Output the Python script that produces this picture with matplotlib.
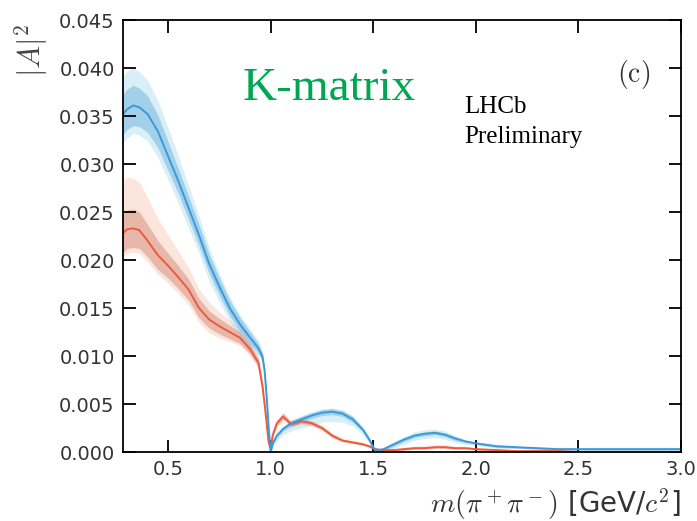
import matplotlib
matplotlib.use('Agg')
import matplotlib.pyplot as plt
from matplotlib.ticker import FormatStrFormatter, MultipleLocator

plt.rcParams['mathtext.fontset'] = 'cm'
plt.rcParams['font.family'] = 'DejaVu Sans'

# m(pi+ pi-) grid in GeV/c^2
mass = [0.28, 0.30, 0.33, 0.36, 0.40, 0.45, 0.50, 0.55, 0.60, 0.65,
        0.70, 0.75, 0.80, 0.85, 0.90, 0.94, 0.96, 0.97, 0.98, 0.99,
        1.00, 1.01, 1.03, 1.06, 1.10, 1.15, 1.20, 1.25, 1.30, 1.35,
        1.40, 1.45, 1.48, 1.51, 1.55, 1.60, 1.65, 1.70, 1.75, 1.80,
        1.85, 1.90, 1.95, 2.00, 2.10, 2.20, 2.30, 2.40, 2.50, 2.75, 3.00]

# |A|^2, blue solution
amp_blue = [0.0352, 0.0357, 0.0361, 0.0359, 0.0352, 0.0334, 0.0308, 0.0282, 0.0254, 0.0226,
            0.0196, 0.0172, 0.0150, 0.0133, 0.0119, 0.0108, 0.0099, 0.0085, 0.0058, 0.0025,
            0.0000, 0.0009, 0.0017, 0.0024, 0.0030, 0.0034, 0.0038, 0.0041, 0.0042, 0.0040,
            0.0034, 0.0023, 0.0013, 0.0001, 0.0003, 0.0008, 0.0013, 0.0017, 0.0019, 0.0020,
            0.0018, 0.0014, 0.0011, 0.0009, 0.0006, 0.0005, 0.0004, 0.0003, 0.0003, 0.0003, 0.0003]
# inner (1 sigma) half width, outer band up/down extent
blue_in = [0.0021, 0.0021, 0.0021, 0.0020, 0.0019, 0.0017, 0.0015, 0.0013, 0.0012, 0.0011,
           0.0010, 0.0009, 0.0008, 0.0007, 0.0006, 0.0005, 0.0004, 0.0003, 0.0003, 0.0002,
           0.0001, 0.0002, 0.0002, 0.0002, 0.0003, 0.0003, 0.0003, 0.0003, 0.0003, 0.0003,
           0.0003, 0.0002, 0.0002, 0.0001, 0.0001, 0.0002, 0.0002, 0.0002, 0.0002, 0.0002,
           0.0002, 0.0002, 0.0001, 0.0001, 0.0001, 0.0001, 0.0001, 0.0001, 0.0001, 0.0001, 0.0001]
blue_out_up = [0.0040, 0.0040, 0.0039, 0.0037, 0.0035, 0.0032, 0.0029, 0.0026, 0.0023, 0.0020,
               0.0017, 0.0014, 0.0012, 0.0010, 0.0009, 0.0008, 0.0006, 0.0005, 0.0004, 0.0003,
               0.0002, 0.0003, 0.0003, 0.0003, 0.0003, 0.0004, 0.0004, 0.0004, 0.0004, 0.0004,
               0.0004, 0.0003, 0.0003, 0.0002, 0.0002, 0.0003, 0.0003, 0.0004, 0.0004, 0.0004,
               0.0004, 0.0003, 0.0002, 0.0002, 0.0002, 0.0001, 0.0001, 0.0001, 0.0001, 0.0001, 0.0001]
blue_out_dn = [0.0030, 0.0030, 0.0029, 0.0029, 0.0028, 0.0027, 0.0025, 0.0023, 0.0021, 0.0019,
               0.0018, 0.0016, 0.0014, 0.0012, 0.0010, 0.0008, 0.0006, 0.0005, 0.0004, 0.0003,
               0.0000, 0.0004, 0.0005, 0.0006, 0.0008, 0.0009, 0.0010, 0.0010, 0.0010, 0.0009,
               0.0007, 0.0005, 0.0004, 0.0001, 0.0002, 0.0004, 0.0005, 0.0005, 0.0005, 0.0005,
               0.0005, 0.0004, 0.0003, 0.0002, 0.0002, 0.0001, 0.0001, 0.0001, 0.0001, 0.0001, 0.0001]

# |A|^2, red solution
amp_red = [0.0228, 0.0232, 0.0233, 0.0231, 0.0220, 0.0205, 0.0194, 0.0182, 0.0169, 0.0150,
           0.0138, 0.0131, 0.0125, 0.0119, 0.0107, 0.0093, 0.0068, 0.0050, 0.0030, 0.0010,
           0.0003, 0.0018, 0.0030, 0.0037, 0.0029, 0.0032, 0.0030, 0.0025, 0.0017, 0.0012,
           0.0010, 0.0008, 0.0006, 0.0003, 0.0002, 0.0002, 0.0003, 0.0004, 0.0004, 0.0005,
           0.0005, 0.0004, 0.0004, 0.0003, 0.0002, 0.0001, 0.0001, 0.0001, 0.0000, 0.0000, 0.0000]
red_in = [0.0020, 0.0020, 0.0020, 0.0019, 0.0017, 0.0015, 0.0013, 0.0012, 0.0011, 0.0010,
          0.0009, 0.0008, 0.0007, 0.0006, 0.0005, 0.0004, 0.0004, 0.0003, 0.0003, 0.0002,
          0.0001, 0.0002, 0.0003, 0.0003, 0.0002, 0.0002, 0.0002, 0.0002, 0.0002, 0.0001,
          0.0001, 0.0001, 0.0001, 0.0001, 0.0001, 0.0001, 0.0001, 0.0001, 0.0001, 0.0001,
          0.0001, 0.0001, 0.0001, 0.0001, 0.0001, 0.0000, 0.0000, 0.0000, 0.0000, 0.0000, 0.0000]
red_out_up = [0.0055, 0.0054, 0.0052, 0.0050, 0.0045, 0.0038, 0.0032, 0.0027, 0.0023, 0.0020,
              0.0018, 0.0015, 0.0012, 0.0010, 0.0008, 0.0007, 0.0006, 0.0005, 0.0004, 0.0003,
              0.0002, 0.0003, 0.0004, 0.0005, 0.0004, 0.0004, 0.0003, 0.0003, 0.0003, 0.0002,
              0.0002, 0.0002, 0.0002, 0.0001, 0.0001, 0.0001, 0.0002, 0.0002, 0.0003, 0.0003,
              0.0003, 0.0002, 0.0002, 0.0001, 0.0001, 0.0001, 0.0000, 0.0000, 0.0000, 0.0000, 0.0000]
red_out_dn = [0.0025, 0.0025, 0.0025, 0.0024, 0.0022, 0.0020, 0.0018, 0.0017, 0.0016, 0.0015,
              0.0014, 0.0012, 0.0010, 0.0008, 0.0007, 0.0006, 0.0005, 0.0004, 0.0003, 0.0002,
              0.0002, 0.0003, 0.0003, 0.0003, 0.0003, 0.0003, 0.0003, 0.0002, 0.0002, 0.0002,
              0.0001, 0.0001, 0.0001, 0.0001, 0.0001, 0.0001, 0.0001, 0.0001, 0.0001, 0.0001,
              0.0001, 0.0001, 0.0001, 0.0001, 0.0001, 0.0000, 0.0000, 0.0000, 0.0000, 0.0000, 0.0000]

x_ticks = [0.5, 1.0, 1.5, 2.0, 2.5, 3.0]


def band(ax, y, up, dn, color, alpha):
    lo = [v - d for v, d in zip(y, dn)]
    hi = [v + u for v, u in zip(y, up)]
    ax.fill_between(mass, lo, hi, color=color, alpha=alpha, lw=0)


fig = plt.figure(figsize=(6.97, 5.21), dpi=100)
ax = fig.add_axes([0.1765, 0.1324, 0.8006, 0.8292])

# outer bands, inner bands, then central curves
band(ax, amp_red, red_out_up, red_out_dn, '#f4a582', 0.28)
band(ax, amp_blue, blue_out_up, blue_out_dn, '#87ceeb', 0.32)
band(ax, amp_red, red_in, red_in, '#c86e5a', 0.38)
band(ax, amp_blue, blue_in, blue_in, '#4a9fcf', 0.38)
ax.plot(mass, amp_red, color='#ee5a3c', lw=1.4)
ax.plot(mass, amp_blue, color='#3a9ad9', lw=1.4)

ax.set_xlim(0.28, 3.0)
ax.set_ylim(0, 0.045)
ax.set_xticks(x_ticks)
ax.xaxis.set_major_formatter(FormatStrFormatter('%.1f'))
ax.yaxis.set_major_locator(MultipleLocator(0.005))
ax.yaxis.set_major_formatter(FormatStrFormatter('%.3f'))
ax.tick_params(direction='in', top=True, right=True, length=9, width=1.3,
               labelsize=14, labelcolor='#333333', pad=6)
for s in ax.spines.values():
    s.set_linewidth(1.3)

ax.set_ylabel(r'$|A|^2$', fontsize=22, color='#444444')
ax.yaxis.set_label_coords(-0.13, 0.93)
ax.set_xlabel(r'$m(\pi^+\pi^-)$ [GeV/$c^2$]', fontsize=20, color='#333333', ha='right')
ax.xaxis.set_label_coords(1.0, -0.08)

fig.text(243 / 697, 1 - 100 / 521, 'K-matrix', color='#00a651', fontsize=34,
         family='Liberation Serif', va='baseline')
fig.text(464 / 697, 1 - 113 / 521, 'LHCb', fontsize=18,
         family='Liberation Serif', va='baseline')
fig.text(464 / 697, 1 - 143 / 521, 'Preliminary', fontsize=18,
         family='Liberation Serif', va='baseline')
ax.text(0.915, 0.875, r'$\mathrm{(c)}$', transform=ax.transAxes, fontsize=20,
        color='#333333', ha='center', va='center')

fig.savefig('out.png', dpi=100)
